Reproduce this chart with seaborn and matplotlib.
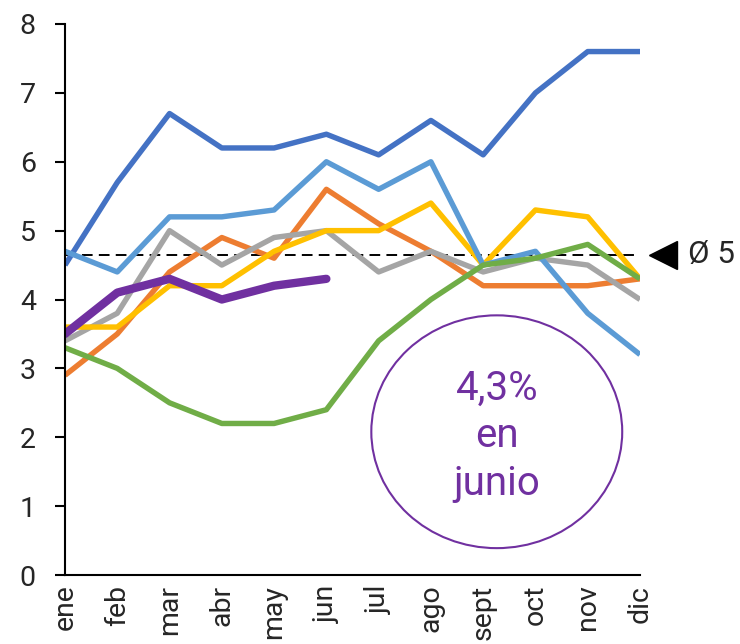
import numpy as np
import pandas as pd
import matplotlib
matplotlib.use("Agg")
import matplotlib.pyplot as plt
from matplotlib.patches import Ellipse
import seaborn as sns

# Monthly rates per series (%)
months = ["ene", "feb", "mar", "abr", "may", "jun", "jul", "ago", "sept", "oct", "nov", "dic"]
serie_azul = [4.5, 5.7, 6.7, 6.2, 6.2, 6.4, 6.1, 6.6, 6.1, 7.0, 7.6, 7.6]
serie_naranja = [2.9, 3.5, 4.4, 4.9, 4.6, 5.6, 5.1, 4.7, 4.2, 4.2, 4.2, 4.3]
serie_gris = [3.4, 3.8, 5.0, 4.5, 4.9, 5.0, 4.4, 4.7, 4.4, 4.6, 4.5, 4.0]
serie_amarilla = [3.6, 3.6, 4.2, 4.2, 4.7, 5.0, 5.0, 5.4, 4.5, 5.3, 5.2, 4.3]
serie_celeste = [4.7, 4.4, 5.2, 5.2, 5.3, 6.0, 5.6, 6.0, 4.5, 4.7, 3.8, 3.2]
serie_verde = [3.3, 3.0, 2.5, 2.2, 2.2, 2.4, 3.4, 4.0, 4.5, 4.6, 4.8, 4.3]
serie_actual = [3.5, 4.1, 4.3, 4.0, 4.2, 4.3]
promedio = 4.65
promedio_label = "Ø 5"
nota = "4,3%\nen\njunio"

series = [
    ("azul", serie_azul, "#4472C4"),
    ("naranja", serie_naranja, "#ED7D31"),
    ("gris", serie_gris, "#A5A5A5"),
    ("amarilla", serie_amarilla, "#FFC000"),
    ("celeste", serie_celeste, "#5B9BD5"),
    ("verde", serie_verde, "#70AD47"),
]
purple = "#7030A0"

sns.set_style("white")
plt.rcParams["font.family"] = ["Roboto", "DejaVu Sans"]

fig = plt.figure(figsize=(7.4, 6.44), dpi=100)
ax = fig.add_axes([65 / 740, 1 - 575 / 644, (640 - 65) / 740, (575 - 24) / 644])

frames = []
for name, vals, _ in series:
    frames.append(pd.DataFrame({"mes": np.arange(len(vals)), "valor": vals, "serie": name}))
df = pd.concat(frames, ignore_index=True)

sns.lineplot(data=df, x="mes", y="valor", hue="serie",
             palette={n: c for n, _, c in series}, hue_order=[n for n, _, _ in series],
             linewidth=3.9, legend=False, ax=ax, sort=False,
             solid_capstyle="butt", solid_joinstyle="round")

df_act = pd.DataFrame({"mes": np.arange(len(serie_actual)), "valor": serie_actual})
sns.lineplot(data=df_act, x="mes", y="valor", color=purple, linewidth=6.0, ax=ax,
             solid_capstyle="round", solid_joinstyle="round")

# Average reference line with marker and label outside the plot
ax.axhline(promedio, color="black", linewidth=1.4, dashes=(5.5, 3.2), zorder=1.5)
ax.plot([11.44], [promedio], marker="<", markersize=20, color="black", clip_on=False)
ax.text(11.92, promedio, promedio_label, fontsize=22.5, va="center", ha="left", clip_on=False)

# Callout circle
ax.add_patch(Ellipse((8.26, 2.08), 4.8, 3.38, fill=False, edgecolor=purple, linewidth=1.5))
ax.text(8.26, 2.02, nota, color=purple, fontsize=29, ha="center", va="center",
        multialignment="center", linespacing=1.28)

ax.set_xlim(0, 11)
ax.set_ylim(0, 8)
ax.set_xticks(range(len(months)))
ax.set_xticklabels(months, rotation=90, va="top", ha="center")
ax.set_yticks(range(0, 9))
ax.set_xlabel("")
ax.set_ylabel("")

for s in ["top", "right"]:
    ax.spines[s].set_visible(False)
for s in ["left", "bottom"]:
    ax.spines[s].set_color("black")
    ax.spines[s].set_linewidth(1.5)

ax.tick_params(axis="y", direction="out", length=7, width=1.5, color="black",
               labelsize=20.5, pad=14, left=True)
ax.tick_params(axis="x", length=0, labelsize=20.5, pad=7)

fig.savefig("out.png", dpi=100)
